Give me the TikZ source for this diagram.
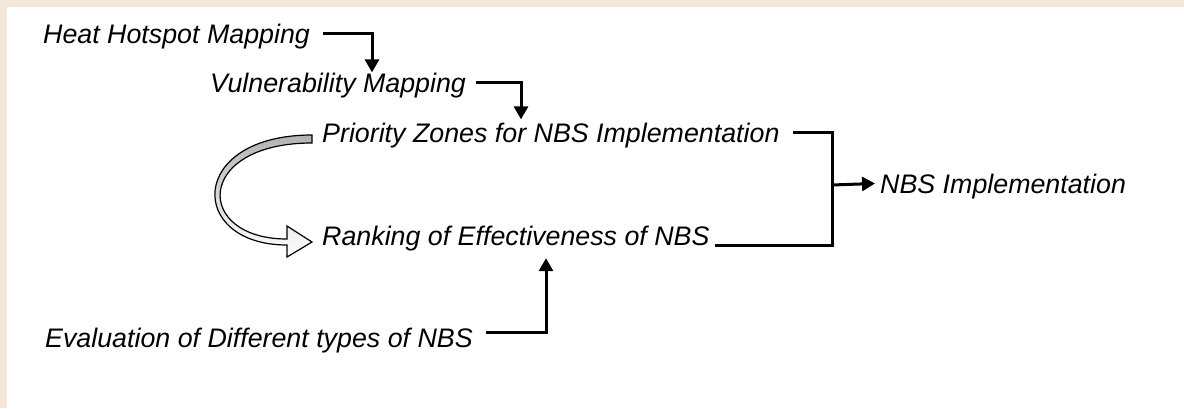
\documentclass[tikz,border=0pt]{standalone}
\usepackage{fontspec}
\setmainfont{Liberation Sans}
\definecolor{frame_beige}{RGB}{243, 232, 218}
\usepackage{tikz}
\usetikzlibrary{arrows.meta, positioning, calc}

\begin{document}
\begin{tikzpicture}[x=1pt, y=-1pt, font=\fontsize{26.8}{32}\selectfont\itshape,
    lbl/.style={inner sep=0pt, anchor=base west, text depth=0pt},
    link/.style={line width=3pt, -{Triangle[length=13pt, width=14pt]}},
    bar/.style={line width=3pt}]
  \useasboundingbox (0,0) rectangle (1184,408);
  \fill[frame_beige] (0,0) rectangle (1184,408);
  \fill[white] (7,7) rectangle (1184,408);

  \node[lbl] (heat) at (43,43)  {Heat Hotspot Mapping};
  \node[lbl] (vuln) at (210,92) {Vulnerability Mapping};
  \node[lbl] (prio) at (322,142) {Priority Zones for NBS Implementation};
  \node[lbl] (rank) at (322,245) {Ranking of Effectiveness of NBS};
  \node[lbl] (eval) at (45,347) {Evaluation of Different types of NBS};
  \node[lbl] (impl) at (880,193) {NBS Implementation};

  \draw[link] ([xshift=13pt]heat.east) -| ([xshift=162pt]vuln.north west);
  \draw[link] ([xshift=10pt]vuln.east) -| ([xshift=199pt, yshift=3pt]prio.north west);
  \draw[link] ([xshift=13pt, yshift=5pt]eval.east) -| ([xshift=224pt, yshift=-13pt]rank.south west);

  % merge towards implementation
  \coordinate (join) at (832,185);
  \draw[bar] ([xshift=13pt]prio.east) -| (join);
  \draw[bar] ([xshift=5pt]rank.south east) -| (join);
  \draw[link, shorten >=5pt] (join) -- (impl.west);

  % hollow curved arrow from priority zones to ranking
  \draw[line width=1.2pt, top color=gray!60, middle color=white, bottom color=white]
    (312,135) .. controls (187,135) and (187,245) .. (287,245)
    -- (287,257) -- (312,242) -- (287,226) -- (287,239)
    .. controls (194,239) and (194,143) .. (312,143) -- cycle;
\end{tikzpicture}
\end{document}
